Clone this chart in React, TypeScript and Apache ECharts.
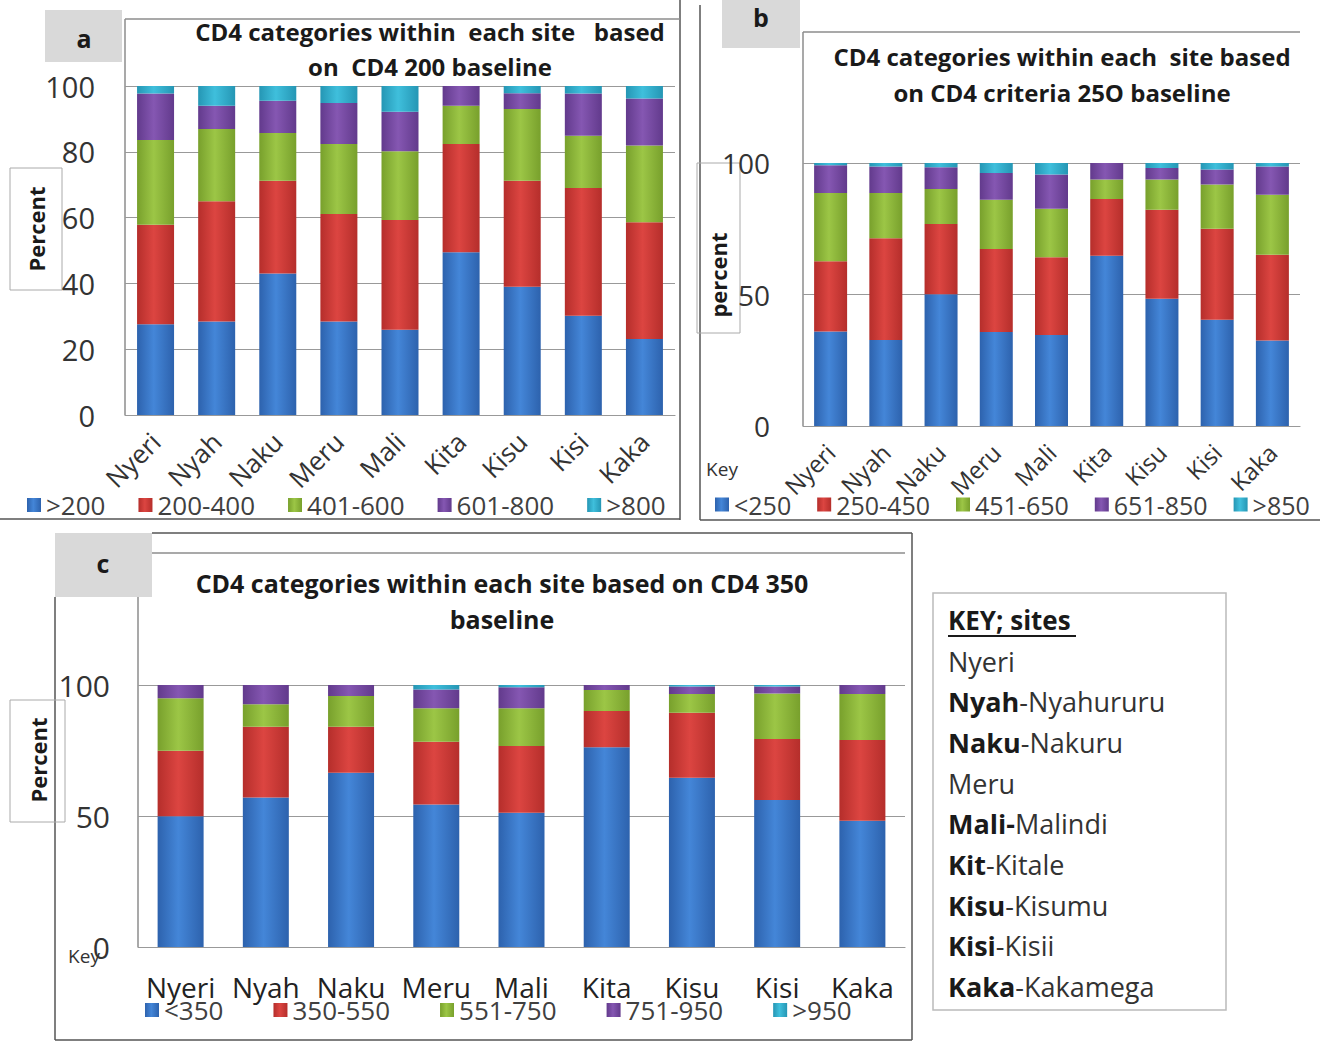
import React, { useEffect, useRef } from "react";
import * as echarts from "echarts";

const sites = ["Nyeri", "Nyah", "Naku", "Meru", "Mali", "Kita", "Kisu", "Kisi", "Kaka"];

const catsA = [">200", "200-400", "401-600", "601-800", ">800"];
const a1 = [27.6, 28.4, 43.0, 28.4, 25.9, 49.5, 39.0, 30.2, 23.1];
const a2 = [30.2, 36.6, 28.2, 32.7, 33.4, 32.9, 32.2, 38.8, 35.5];
const a3 = [25.8, 21.9, 14.5, 21.3, 20.9, 11.6, 21.8, 15.9, 23.3];
const a4 = [14.1, 7.1, 9.8, 12.4, 12.0, 6.0, 4.8, 12.8, 14.3];
const a5 = [2.3, 6.0, 4.5, 5.2, 7.8, 0, 2.2, 2.3, 3.8];

const catsB = ["<250", "250-450", "451-650", "651-850", ">850"];
const b1 = [35.9, 32.7, 50.1, 35.7, 34.6, 64.7, 48.4, 40.4, 32.5];
const b2 = [26.7, 38.7, 26.7, 31.6, 29.6, 21.6, 33.8, 34.6, 32.6];
const b3 = [26.0, 17.2, 13.3, 18.7, 18.4, 7.4, 11.5, 16.8, 22.8];
const b4 = [10.5, 10.1, 8.3, 10.2, 13.0, 6.3, 4.4, 5.7, 10.8];
const b5 = [0.9, 1.3, 1.6, 3.8, 4.4, 0, 1.9, 2.5, 1.3];

const catsC = ["<350", "350-550", "551-750", "751-950", ">950"];
const c1 = [49.9, 57.1, 66.5, 54.4, 51.2, 76.2, 64.6, 56.1, 48.2];
const c2 = [25.0, 27.0, 17.6, 23.9, 25.5, 13.9, 24.8, 23.3, 30.8];
const c3 = [20.0, 8.6, 11.7, 12.8, 14.4, 8.0, 7.2, 17.4, 17.6];
const c4 = [5.1, 7.3, 4.2, 7.2, 8.0, 1.9, 2.8, 2.6, 3.4];
const c5 = [0, 0, 0, 1.7, 0.9, 0, 0.6, 0.6, 0];

const keyLines: [string, string][] = [
  ["", "Nyeri"],
  ["Nyah", "-Nyahururu"],
  ["Naku", "-Nakuru"],
  ["", "Meru"],
  ["Mali-", "Malindi"],
  ["Kit", "-Kitale"],
  ["Kisu", "-Kisumu"],
  ["Kisi", "-Kisii"],
  ["Kaka", "-Kakamega"],
];

const COLORS = [
  ["#2d62ad", "#4486d8"],
  ["#b52e2b", "#dc4541"],
  ["#78a02c", "#9cc646"],
  ["#623a8c", "#8557b2"],
  ["#2596b4", "#3fbfdc"],
];

const FONT = "'Open Sans', Lato, sans-serif";

function fill(i: number) {
  return new echarts.graphic.LinearGradient(0, 0, 1, 0, [
    { offset: 0, color: COLORS[i][0] },
    { offset: 0.45, color: COLORS[i][1] },
    { offset: 1, color: COLORS[i][0] },
  ]);
}

export default function App() {
  const ref = useRef<HTMLDivElement>(null);
  useEffect(() => {
    if (!ref.current) return;
    const chart = echarts.init(ref.current, null, { renderer: "svg" });

    const panels = [
      { cats: catsA, data: [a1, a2, a3, a4, a5], bw: 37 },
      { cats: catsB, data: [b1, b2, b3, b4, b5], bw: 33 },
      { cats: catsC, data: [c1, c2, c3, c4, c5], bw: 46 },
    ];
    const series: any[] = [];
    panels.forEach((p, pi) => {
      p.cats.forEach((name, si) => {
        series.push({
          type: "bar",
          name,
          stack: "s" + pi,
          xAxisIndex: pi,
          yAxisIndex: pi,
          barWidth: p.bw,
          data: p.data[si],
          itemStyle: { color: fill(si) },
        });
      });
    });

    const lineStyle = { stroke: "#8c8c8c", lineWidth: 1.5 };
    const ln = (x1: number, y1: number, x2: number, y2: number, s: any = lineStyle) => ({
      type: "line",
      shape: { x1, y1, x2, y2 },
      style: s,
      silent: true,
    });
    const txt = (x: number, y: number, text: string, extra: any = {}) => ({
      type: "text",
      x,
      y,
      style: {
        text,
        fontFamily: FONT,
        fontSize: 24,
        fontWeight: "bold",
        fill: "#1a1a1a",
        align: "center",
        verticalAlign: "middle",
        ...extra,
      },
    });
    const vtxt = (x: number, y: number, text: string) => ({
      type: "text",
      x,
      y,
      rotation: Math.PI / 2,
      style: { text, fontFamily: FONT, fontSize: 22, fontWeight: "bold", fill: "#1a1a1a", align: "center", verticalAlign: "middle" },
    });

    const graphics: any[] = [
      // panel a
      ln(680, 0, 680, 520, { stroke: "#555", lineWidth: 1.5 }),
      ln(0, 519, 680, 519, { stroke: "#555", lineWidth: 1.5 }),
      ln(125, 19, 680, 19),
      ln(125, 19, 125, 415),
      { type: "rect", shape: { x: 45, y: 10, width: 77, height: 52 }, style: { fill: "#d9d9d9" } },
      txt(84, 38, "a", { fontSize: 25 }),
      txt(430, 31, "CD4 categories within  each site   based"),
      txt(430, 66, "on  CD4 200 baseline"),
      { type: "rect", shape: { x: 10, y: 168, width: 52, height: 122 }, style: { fill: "none", stroke: "#aaa", lineWidth: 1 } },
      vtxt(36, 229, "Percent"),
      // panel b
      ln(700, 5, 700, 520, { stroke: "#555", lineWidth: 1.5 }),
      ln(700, 520, 1320, 520, { stroke: "#555", lineWidth: 1.5 }),
      ln(803, 32, 1300, 32),
      ln(803, 32, 803, 426),
      { type: "rect", shape: { x: 722, y: 0, width: 78, height: 48 }, style: { fill: "#d9d9d9" } },
      txt(761, 17, "b", { fontSize: 25 }),
      txt(1062, 56, "CD4 categories within each  site based"),
      txt(1062, 92, "on CD4 criteria 25O baseline"),
      { type: "rect", shape: { x: 697, y: 163, width: 43, height: 170 }, style: { fill: "none", stroke: "#aaa", lineWidth: 1 } },
      vtxt(718, 275, "percent"),
      txt(722, 469, "Key", { fontSize: 19, fontWeight: "normal", fill: "#333" }),
      // panel c
      ln(152, 533, 912, 533, { stroke: "#555", lineWidth: 1.5 }),
      ln(55, 597, 55, 1040, { stroke: "#555", lineWidth: 1.5 }),
      ln(912, 533, 912, 1040, { stroke: "#555", lineWidth: 1.5 }),
      ln(55, 1040, 912, 1040, { stroke: "#555", lineWidth: 1.5 }),
      ln(152, 553, 905, 553),
      ln(138, 553, 138, 947),
      { type: "rect", shape: { x: 55, y: 533, width: 97, height: 64 }, style: { fill: "#d9d9d9" } },
      txt(103, 563, "c", { fontSize: 25 }),
      txt(502, 583, "CD4 categories within each site based on CD4 350", { fontSize: 25 }),
      txt(502, 619, "baseline", { fontSize: 25 }),
      { type: "rect", shape: { x: 10, y: 700, width: 55, height: 122 }, style: { fill: "none", stroke: "#aaa", lineWidth: 1 } },
      vtxt(38, 760, "Percent"),
      txt(84, 956, "Key", { fontSize: 19, fontWeight: "normal", fill: "#333" }),
      // key box
      { type: "rect", shape: { x: 933, y: 593, width: 293, height: 417 }, style: { fill: "#fff", stroke: "#bbb", lineWidth: 1.5 } },
      txt(948, 620, "KEY; sites", { align: "left", fontSize: 26 }),
      ln(948, 636, 1076, 636, { stroke: "#1a1a1a", lineWidth: 2 }),
    ];
    keyLines.forEach(([b, n], i) => {
      graphics.push({
        type: "text",
        x: 948,
        y: 661 + i * 40.7,
        style: {
          text: (b ? "{b|" + b + "}" : "") + "{n|" + n + "}",
          verticalAlign: "middle",
          align: "left",
          rich: {
            b: { fontFamily: FONT, fontSize: 27, fontWeight: "bold", fill: "#1a1a1a" },
            n: { fontFamily: FONT, fontSize: 27, fill: "#333" },
          },
        },
      });
    });

    const yAxisBase = (max: number, interval: number, margin: number, fs: number) => ({
      type: "value",
      min: 0,
      max,
      interval,
      axisLine: { show: false },
      axisTick: { show: false },
      splitLine: { lineStyle: { color: "#999", width: 1.2 } },
      axisLabel: { fontFamily: FONT, fontSize: fs, color: "#333", margin },
    });

    const legendBase = {
      itemWidth: 14,
      itemHeight: 14,
      icon: "rect",
    };

    chart.setOption({
      animation: false,
      backgroundColor: "#fff",
      grid: [
        { left: 125, top: 86, width: 550, height: 329 },
        { left: 803, top: 163, width: 497, height: 263 },
        { left: 138, top: 685, width: 767, height: 262 },
      ],
      xAxis: [
        {
          type: "category",
          gridIndex: 0,
          data: sites,
          axisTick: { show: false },
          axisLine: { lineStyle: { color: "#999", width: 1.2 } },
          axisLabel: { rotate: 45, fontFamily: FONT, fontSize: 26, color: "#333", margin: 22, interval: 0 },
        },
        {
          type: "category",
          gridIndex: 1,
          data: sites,
          axisTick: { show: false },
          axisLine: { lineStyle: { color: "#999", width: 1.2 } },
          axisLabel: { rotate: 45, fontFamily: FONT, fontSize: 24, color: "#333", margin: 22, interval: 0 },
        },
        {
          type: "category",
          gridIndex: 2,
          data: sites,
          axisTick: { show: false },
          axisLine: { lineStyle: { color: "#999", width: 1.2 } },
          axisLabel: { fontFamily: FONT, fontSize: 28, color: "#222", margin: 26, interval: 0 },
        },
      ],
      yAxis: [
        { ...yAxisBase(100, 20, 30, 29), gridIndex: 0 },
        { ...yAxisBase(100, 50, 33, 28), gridIndex: 1 },
        { ...yAxisBase(100, 50, 28, 30), gridIndex: 2 },
      ],
      legend: [
        { ...legendBase, data: catsA, left: 22, top: 487, itemGap: 33, textStyle: { fontFamily: FONT, fontSize: 26, color: "#404040" } },
        { ...legendBase, data: catsB, left: 710, top: 487, itemGap: 26, textStyle: { fontFamily: FONT, fontSize: 25, color: "#404040" } },
        { ...legendBase, data: catsC, left: 140, top: 992, itemGap: 50, textStyle: { fontFamily: FONT, fontSize: 26, color: "#404040" } },
      ],
      graphic: graphics,
      series,
    });
    return () => chart.dispose();
  }, []);
  return (
    <div
      ref={ref}
      style={{ position: "fixed", left: 0, top: 0, width: 1320, height: 1044, background: "#fff" }}
    />
  );
}
